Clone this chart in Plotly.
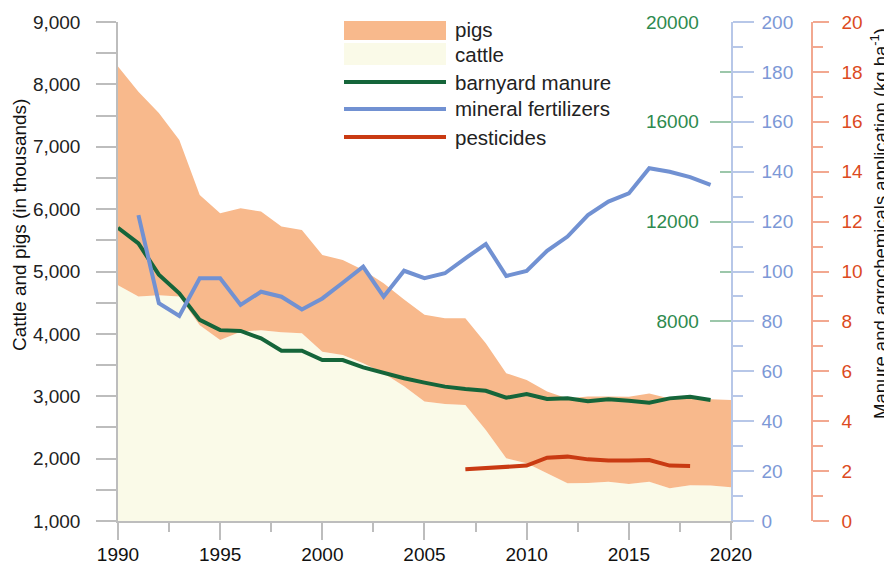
import plotly.graph_objects as go

# ---------------- data ----------------
years = list(range(1990, 2021))
cattle = [4780, 4600, 4620, 4600, 4140, 3900, 4035, 4060, 4025, 4010,
          3715, 3660, 3530, 3370, 3160, 2915, 2875, 2860, 2460, 2005,
          1925, 1765, 1605, 1610, 1630, 1595, 1630, 1525, 1575, 1570, 1540]
pigs = [3505, 3280, 2920, 2510, 2085, 2035, 1980, 1900, 1695, 1655,
        1550, 1525, 1495, 1440, 1390, 1390, 1375, 1390, 1390, 1365,
        1335, 1310, 1360, 1385, 1365, 1395, 1415, 1440, 1415, 1380, 1400]

manure_years = list(range(1990, 2020))
manure = [11750, 11125, 9875, 9125, 8060, 7650, 7620, 7320, 6825, 6825,
          6450, 6450, 6160, 5920, 5720, 5545, 5385, 5290, 5220, 4940,
          5090, 4890, 4915, 4800, 4875, 4820, 4740, 4915, 4980, 4850]

fert_years = list(range(1991, 2020))
fertilizers = [122.6, 87.3, 82.2, 97.3, 97.3, 86.6, 91.9, 89.9, 84.8, 89.2,
               95.5, 101.9, 89.9, 100.3, 97.3, 99.3, 105.3, 111.0, 98.2, 100.2,
               108.3, 114.0, 122.6, 128.0, 131.3, 141.4, 140.0, 137.8, 134.7]

pest_years = list(range(2007, 2019))
pesticides = [2.07, 2.11, 2.15, 2.22, 2.54, 2.58, 2.47, 2.42, 2.42, 2.44, 2.22, 2.20]

legend_labels = ["pigs", "cattle", "barnyard manure", "mineral fertilizers", "pesticides"]
x_ticks = [1990, 1995, 2000, 2005, 2010, 2015, 2020]
left_ticks = list(range(1000, 9001, 1000))
green_ticks = [8000, 12000, 16000, 20000]
blue_ticks = list(range(0, 201, 20))
red_ticks = list(range(0, 21, 2))

# ---------------- styles ----------------
FONT = "Liberation Sans, Arial, sans-serif"
C_PIGS = "#F8B98C"
C_CATTLE = "#FAFAE8"
C_GREEN = "#15653A"
C_BLUE = "#7191D2"
C_RED = "#C93A12"
T_GREEN = "#2E8A4E"
T_BLUE = "#7C98D6"
T_RED = "#DC4A22"
GRAY = "#BDBDBD"
TS = 19  # tick label size

# window 892x570; the page body has an 8px margin, so the figure is offset by 8px
WIN_W, WIN_H = 892, 570
BODY = 8
W, H = WIN_W - BODY, WIN_H - BODY
# plot area in window pixels
PL, PR_AX, PT, PB = 118, 812, 22, 521
ML, MT = PL - BODY, PT - BODY
MR, MB = WIN_W - PR_AX, WIN_H - PB
PW = PR_AX - PL
PH = PB - PT
X_END = 731


def px(x):
    return (x - PL) / PW


def py(y):
    return (PB - y) / PH


fig = go.Figure()

fig.add_trace(go.Scatter(x=years, y=cattle, name="cattle", stackgroup="a",
                         mode="lines", line=dict(width=0), fillcolor=C_CATTLE,
                         showlegend=False, yaxis="y"))
fig.add_trace(go.Scatter(x=years, y=pigs, name="pigs", stackgroup="a",
                         mode="lines", line=dict(width=0), fillcolor=C_PIGS,
                         showlegend=False, yaxis="y"))
fig.add_trace(go.Scatter(x=manure_years, y=manure, name="barnyard manure",
                         mode="lines", line=dict(color=C_GREEN, width=4),
                         showlegend=False, yaxis="y2"))
fig.add_trace(go.Scatter(x=fert_years, y=fertilizers, name="mineral fertilizers",
                         mode="lines", line=dict(color=C_BLUE, width=4),
                         showlegend=False, yaxis="y3"))
fig.add_trace(go.Scatter(x=pest_years, y=pesticides, name="pesticides",
                         mode="lines", line=dict(color=C_RED, width=4),
                         showlegend=False, yaxis="y4"))

fig.update_layout(
    width=W, height=H,
    margin=dict(l=ML, r=MR, t=MT, b=MB, pad=0, autoexpand=False),
    paper_bgcolor="white", plot_bgcolor="white",
    showlegend=False,
    font=dict(family=FONT, size=18, color="#222"),
    xaxis=dict(domain=[0, px(X_END)], range=[1990, 2020.001], tickvals=x_ticks,
               automargin=False,
               showgrid=False, zeroline=False, showline=True, linecolor=GRAY,
               linewidth=1.5, ticks="outside", ticklen=17, tickcolor=GRAY,
               tickwidth=1.5, tickfont=dict(family=FONT, size=TS, color="#111"),
               ticklabelstandoff=-2, ticklabeloverflow="allow",
               minor=dict(dtick=2.5, tick0=1990, ticks="outside", ticklen=9,
                          tickcolor=GRAY, tickwidth=1.5)),
    yaxis=dict(range=[1000, 9000], tickvals=left_ticks, tickformat=",",
               automargin=False,
               showgrid=False, zeroline=False, showline=True, linecolor=GRAY,
               linewidth=1.5, ticks="outside", ticklen=20, tickcolor=GRAY,
               tickwidth=1.5, tickfont=dict(family=FONT, size=TS, color="#222"),
               ticklabelstandoff=12, ticklabeloverflow="allow",
               minor=dict(dtick=500, tick0=1000, ticks="outside", ticklen=20,
                          tickcolor=GRAY, tickwidth=1.5)),
    yaxis2=dict(range=[0, 20000], overlaying="y", anchor="x", side="right",
                automargin=False,
                tickvals=green_ticks, tickformat="d",
                showgrid=False, zeroline=False, showline=False,
                ticks="inside", ticklen=21, tickcolor="#9CC7AA", tickwidth=1.5,
                ticklabelposition="inside", ticklabelstandoff=12,
                ticklabeloverflow="allow",
                tickfont=dict(family=FONT, size=TS, color=T_GREEN),
                minor=dict(tickvals=[10000, 14000, 18000], ticks="inside",
                           ticklen=11, tickcolor="#9CC7AA", tickwidth=1.5)),
    yaxis3=dict(range=[0, 200], overlaying="y", anchor="x", side="right",
                automargin=False,
                tickvals=blue_ticks, showgrid=False, zeroline=False, showline=True,
                linecolor="#B7C7E8", linewidth=1.5,
                ticks="outside", ticklen=21, tickcolor="#B7C7E8", tickwidth=1.5,
                ticklabelstandoff=4, ticklabeloverflow="allow",
                tickfont=dict(family=FONT, size=TS, color=T_BLUE),
                minor=dict(dtick=10, tick0=0, ticks="outside", ticklen=10,
                           tickcolor="#B7C7E8", tickwidth=1.5)),
    yaxis4=dict(range=[0, 20], overlaying="y", anchor="free", position=1.0,
                automargin=False,
                side="right", tickvals=red_ticks, showgrid=False, zeroline=False,
                showline=True, linecolor="#F2A890", linewidth=1.5,
                ticks="outside", ticklen=16, tickcolor="#F2A890", tickwidth=1.5,
                ticklabelstandoff=9, ticklabeloverflow="allow",
                tickfont=dict(family=FONT, size=TS, color=T_RED),
                minor=dict(dtick=1, tick0=0, ticks="outside", ticklen=10,
                           tickcolor="#F2A890", tickwidth=1.5)),
)

# axis titles
fig.add_annotation(text="Cattle and pigs (in thousands)", xref="paper", yref="paper",
                   x=px(20), y=py(225), textangle=-90, showarrow=False,
                   xanchor="center", yanchor="middle",
                   font=dict(family=FONT, size=TS, color="#111"))
fig.add_annotation(text="Manure and agrochemicals application (kg ha<sup>-1</sup>)",
                   xref="paper", yref="paper", x=px(879), y=py(224), textangle=-90,
                   showarrow=False, xanchor="center", yanchor="middle",
                   font=dict(family=FONT, size=18.5, color="#111"))

# legend (drawn manually)
LX0, LX1, TX = 344, 446, 453
fig.add_shape(type="rect", xref="paper", yref="paper", x0=px(LX0), x1=px(LX1),
              y0=py(40), y1=py(21), fillcolor=C_PIGS, line=dict(width=0))
fig.add_shape(type="rect", xref="paper", yref="paper", x0=px(LX0), x1=px(LX1),
              y0=py(65), y1=py(43), fillcolor=C_CATTLE, line=dict(width=0))
for ypix, col in [(82, C_GREEN), (109, C_BLUE), (137, C_RED)]:
    fig.add_shape(type="line", xref="paper", yref="paper", x0=px(LX0), x1=px(LX1),
                  y0=py(ypix), y1=py(ypix), line=dict(color=col, width=4))
for lab, ypix in zip(legend_labels, [29, 55, 82, 109, 137]):
    fig.add_annotation(text=lab, xref="paper", yref="paper", x=px(TX), y=py(ypix),
                       xanchor="left", yanchor="middle", showarrow=False,
                       font=dict(family=FONT, size=20.5, color="#222"))

fig.write_html("out.html")
